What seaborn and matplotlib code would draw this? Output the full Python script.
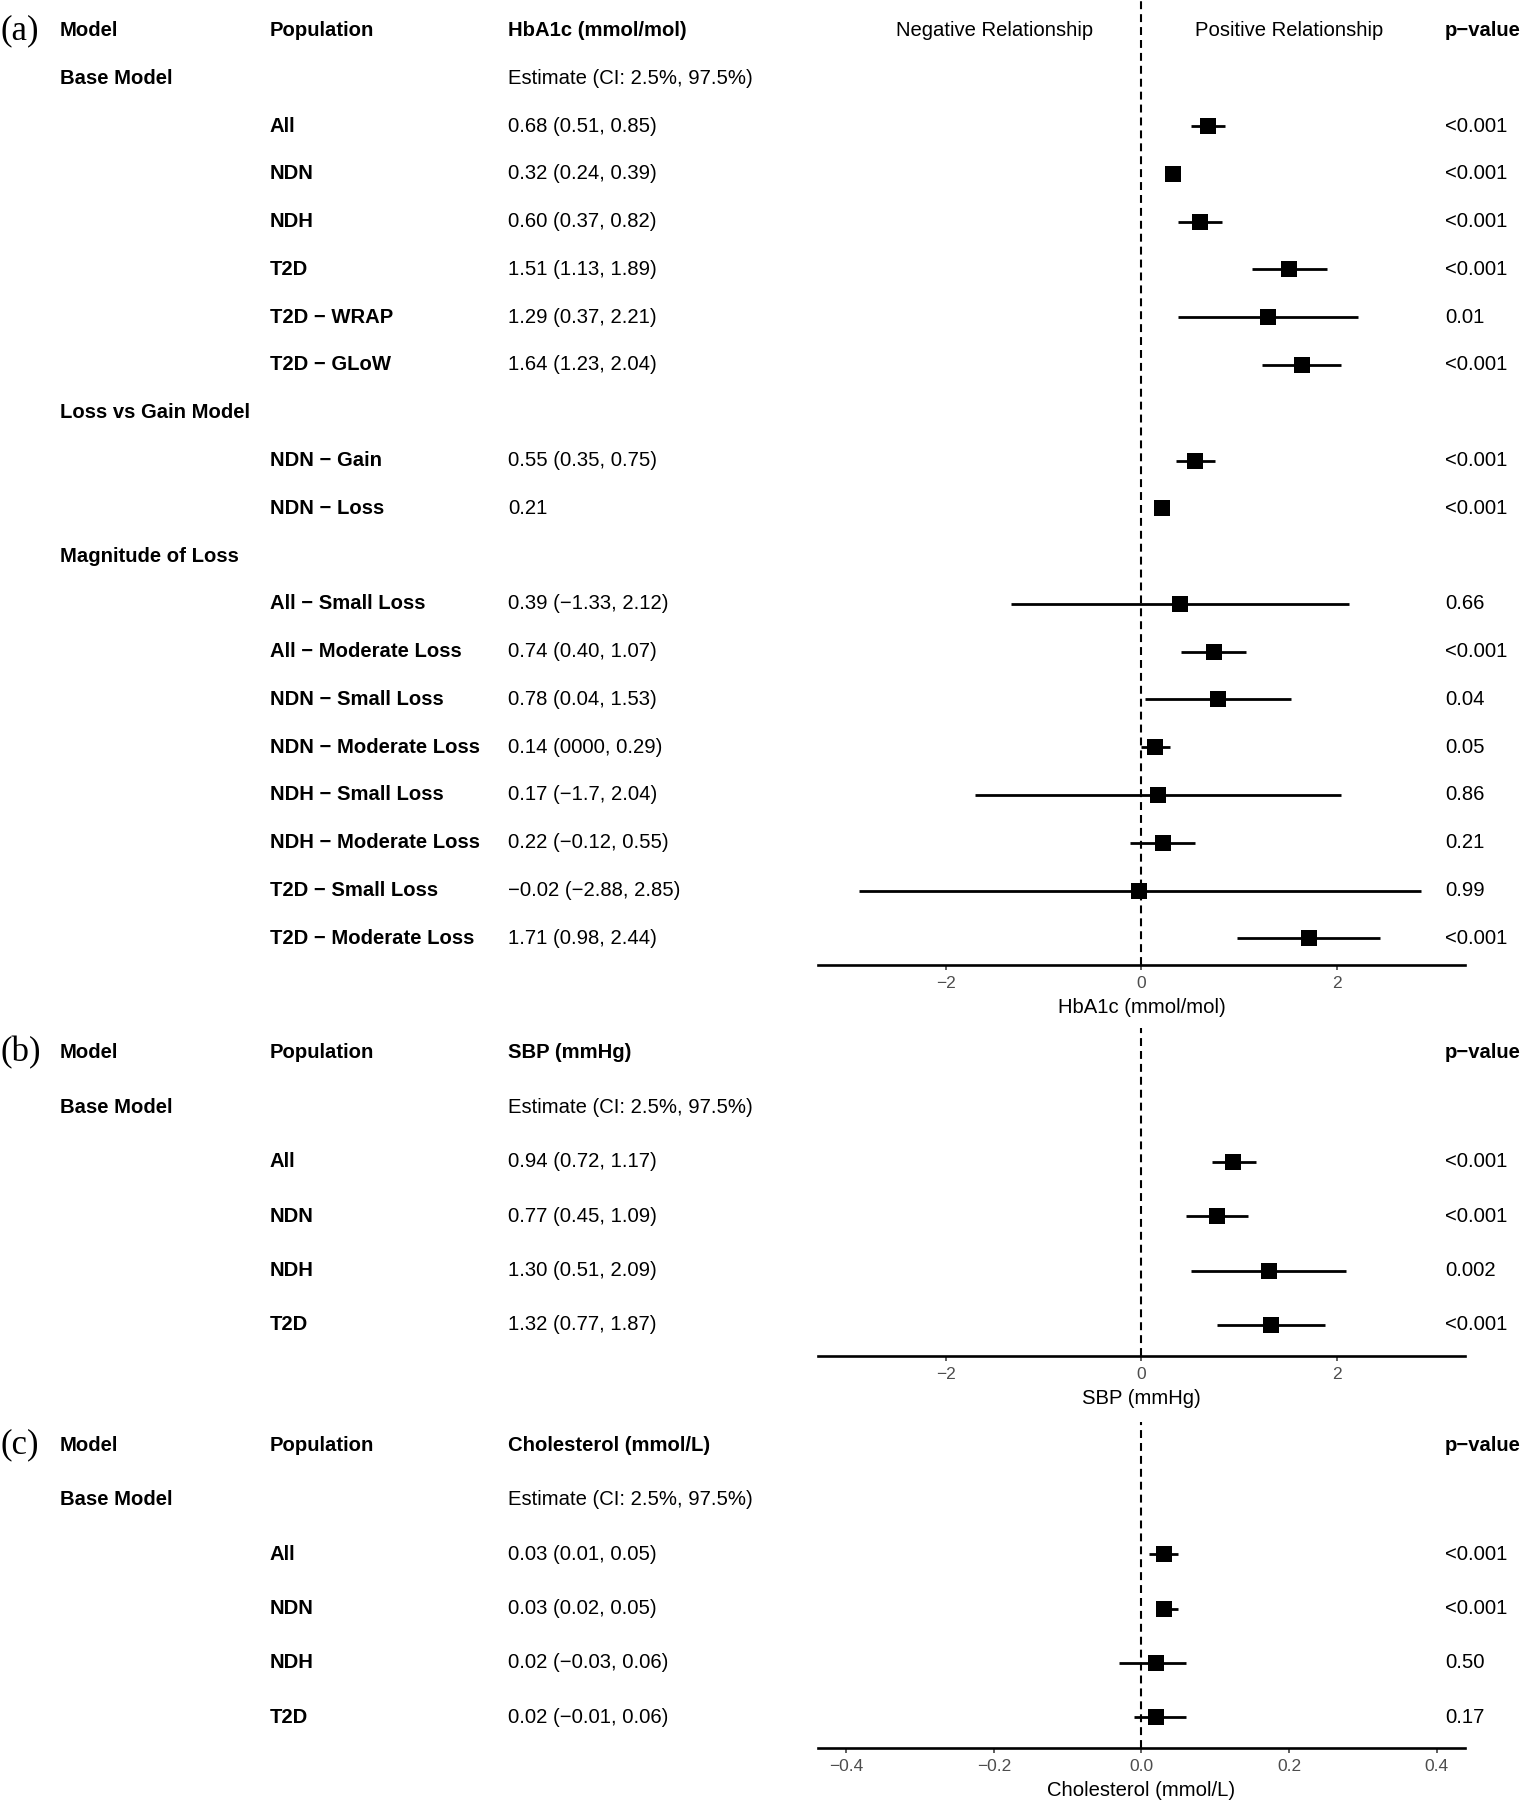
import numpy as np
import pandas as pd
import matplotlib
matplotlib.use("Agg")
import matplotlib.pyplot as plt
import seaborn as sns
from matplotlib import transforms

# ---------------- data ----------------
a_groups = ["Base Model", "Loss vs Gain Model", "Magnitude of Loss"]
a_group_idx = [0, 0, 0, 0, 0, 0, 1, 1, 2, 2, 2, 2, 2, 2, 2, 2]
a_pops = ["All", "NDN", "NDH", "T2D", "T2D \u2212 WRAP", "T2D \u2212 GLoW",
          "NDN \u2212 Gain", "NDN \u2212 Loss",
          "All \u2212 Small Loss", "All \u2212 Moderate Loss",
          "NDN \u2212 Small Loss", "NDN \u2212 Moderate Loss",
          "NDH \u2212 Small Loss", "NDH \u2212 Moderate Loss",
          "T2D \u2212 Small Loss", "T2D \u2212 Moderate Loss"]
a_est = [0.68, 0.32, 0.60, 1.51, 1.29, 1.64, 0.55, 0.21,
         0.39, 0.74, 0.78, 0.14, 0.17, 0.22, -0.02, 1.71]
a_lo = [0.51, 0.24, 0.37, 1.13, 0.37, 1.23, 0.35, np.nan,
        -1.33, 0.40, 0.04, 0.00, -1.7, -0.12, -2.88, 0.98]
a_hi = [0.85, 0.39, 0.82, 1.89, 2.21, 2.04, 0.75, np.nan,
        2.12, 1.07, 1.53, 0.29, 2.04, 0.55, 2.85, 2.44]
a_txt = ["0.68 (0.51, 0.85)", "0.32 (0.24, 0.39)", "0.60 (0.37, 0.82)",
         "1.51 (1.13, 1.89)", "1.29 (0.37, 2.21)", "1.64 (1.23, 2.04)",
         "0.55 (0.35, 0.75)", "0.21",
         "0.39 (\u22121.33, 2.12)", "0.74 (0.40, 1.07)", "0.78 (0.04, 1.53)",
         "0.14 (0000, 0.29)", "0.17 (\u22121.7, 2.04)", "0.22 (\u22120.12, 0.55)",
         "\u22120.02 (\u22122.88, 2.85)", "1.71 (0.98, 2.44)"]
a_p = ["<0.001", "<0.001", "<0.001", "<0.001", "0.01", "<0.001",
       "<0.001", "<0.001", "0.66", "<0.001", "0.04", "0.05",
       "0.86", "0.21", "0.99", "<0.001"]

b_groups = ["Base Model"]
b_group_idx = [0, 0, 0, 0]
b_pops = ["All", "NDN", "NDH", "T2D"]
b_est = [0.94, 0.77, 1.30, 1.32]
b_lo = [0.72, 0.45, 0.51, 0.77]
b_hi = [1.17, 1.09, 2.09, 1.87]
b_txt = ["0.94 (0.72, 1.17)", "0.77 (0.45, 1.09)", "1.30 (0.51, 2.09)", "1.32 (0.77, 1.87)"]
b_p = ["<0.001", "<0.001", "0.002", "<0.001"]

c_groups = ["Base Model"]
c_group_idx = [0, 0, 0, 0]
c_pops = ["All", "NDN", "NDH", "T2D"]
c_est = [0.03, 0.03, 0.02, 0.02]
c_lo = [0.01, 0.02, -0.03, -0.01]
c_hi = [0.05, 0.05, 0.06, 0.06]
c_txt = ["0.03 (0.01, 0.05)", "0.03 (0.02, 0.05)", "0.02 (\u22120.03, 0.06)", "0.02 (\u22120.01, 0.06)"]
c_p = ["<0.001", "<0.001", "0.50", "0.17"]

ab_ticks = [-2, 0, 2]
ab_ticklabels = ["\u22122", "0", "2"]
c_ticks = [-0.4, -0.2, 0.0, 0.2, 0.4]
c_ticklabels = ["\u22120.4", "\u22120.2", "0.0", "0.2", "0.4"]

# ---------------- style ----------------
sns.set_theme(style="white")
plt.rcParams['font.family'] = ['Liberation Sans', 'DejaVu Sans']
plt.rcParams['axes.unicode_minus'] = True

W, H = 1522, 1800
fig = plt.figure(figsize=(W / 100, H / 100), dpi=100)
fig.patch.set_facecolor("white")

FS = 14.6
X_MODEL, X_POP, X_EST, X_P = 60, 270, 508, 1445
X_NEG, X_POS = 995, 1289
AX_L, AX_R = 818.3, 1464.6


def panel(top_px, bottom_px, row0_px, row_h, xlim, ticks, ticklabels, xlabel,
          tag, meas, groups, gidx, pops, est, lo, hi, txt, pv, show_rel):
    rect = [AX_L / W, 1 - bottom_px / H, (AX_R - AX_L) / W, (bottom_px - top_px) / H]
    ax = fig.add_axes(rect)
    ax.set_facecolor("none")

    recs, grows = [], []
    row, prev = 1, None
    for i in range(len(pops)):
        if gidx[i] != prev:
            grows.append((row, groups[gidx[i]]))
            row += 1
            prev = gidx[i]
        recs.append(dict(row=row, pop=pops[i], est=est[i], lo=lo[i], hi=hi[i],
                         txt=txt[i], p=pv[i]))
        row += 1
    df = pd.DataFrame(recs)

    ci = df.dropna(subset=["lo", "hi"])
    ax.hlines(ci["row"], ci["lo"], ci["hi"], color="black", lw=2.0, zorder=2)
    sns.scatterplot(data=df, x="est", y="row", marker="s", s=130, color="black",
                    linewidth=0, ax=ax, legend=False, zorder=3)
    ax.axvline(0, color="black", lw=1.5, ls=(0, (3.8, 2.4)), zorder=1)

    ybot = (bottom_px - row0_px) / row_h
    ytop = (top_px - row0_px) / row_h
    ax.set_ylim(ybot, ytop)
    ax.set_xlim(*xlim)
    ax.set_yticks([])
    ax.set_xticks(ticks)
    ax.set_xticklabels(ticklabels)
    for s in ["left", "top", "right"]:
        ax.spines[s].set_visible(False)
    ax.spines["bottom"].set_color("black")
    ax.spines["bottom"].set_linewidth(1.9)
    ax.tick_params(axis="x", length=3.6, width=1.1, color="#333333",
                   labelsize=12.5, labelcolor="#4D4D4D", pad=4.6, bottom=True)
    ax.set_ylabel("")
    ax.set_xlabel(xlabel, fontsize=14.6, color="black", labelpad=5.0)
    ax.grid(False)

    tr = transforms.blended_transform_factory(fig.transFigure, ax.transData)
    kw = dict(transform=tr, va="center", fontsize=FS, color="black")
    # header
    ax.text(1 / W, 0, tag, transform=tr, va="center", ha="left", fontsize=25,
            family="Liberation Serif", color="black")
    ax.text(X_MODEL / W, 0, "Model", fontweight="bold", **kw)
    ax.text(X_POP / W, 0, "Population", fontweight="bold", **kw)
    ax.text(X_EST / W, 0, meas, fontweight="bold", **kw)
    ax.text(X_P / W, 0, "p\u2212value", fontweight="bold", **kw)
    if show_rel:
        ax.text(X_NEG / W, 0, "Negative Relationship", ha="center", **kw)
        ax.text(X_POS / W, 0, "Positive Relationship", ha="center", **kw)
    for r, g in grows:
        ax.text(X_MODEL / W, r, g, fontweight="bold", **kw)
        if r == 1:
            ax.text(X_EST / W, r, "Estimate (CI: 2.5%, 97.5%)", **kw)
    for _, rr in df.iterrows():
        ax.text(X_POP / W, rr["row"], rr["pop"], fontweight="bold", **kw)
        ax.text(X_EST / W, rr["row"], rr["txt"], **kw)
        ax.text(X_P / W, rr["row"], rr["p"], **kw)
    return ax


panel(0, 965, 30.5, 47.78, (-3.3, 3.3), ab_ticks, ab_ticklabels, "HbA1c (mmol/mol)",
      "(a)", "HbA1c (mmol/mol)", a_groups, a_group_idx, a_pops, a_est, a_lo, a_hi,
      a_txt, a_p, True)
panel(1028, 1355.5, 1053, 54.4, (-3.3, 3.3), ab_ticks, ab_ticklabels, "SBP (mmHg)",
      "(b)", "SBP (mmHg)", b_groups, b_group_idx, b_pops, b_est, b_lo, b_hi,
      b_txt, b_p, False)
panel(1422, 1747.5, 1445.3, 54.4, (-0.438, 0.438), c_ticks, c_ticklabels, "Cholesterol (mmol/L)",
      "(c)", "Cholesterol (mmol/L)", c_groups, c_group_idx, c_pops, c_est, c_lo, c_hi,
      c_txt, c_p, False)

fig.savefig("out.png", dpi=100, facecolor="white")
